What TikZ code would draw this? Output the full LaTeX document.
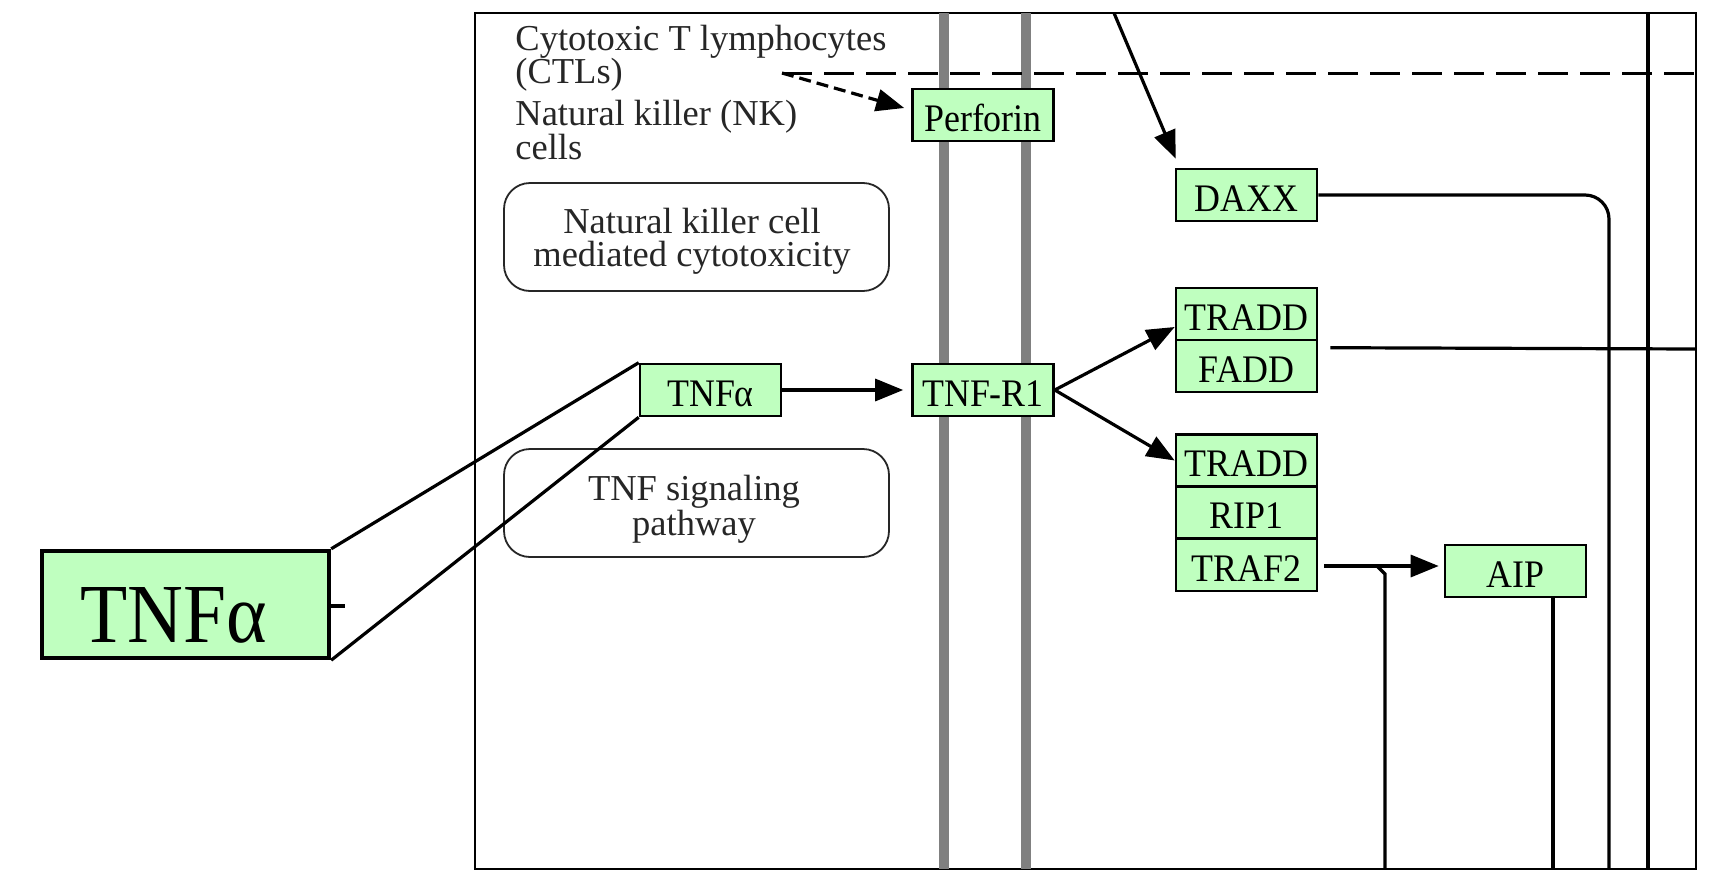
\documentclass[tikz,border=0pt]{standalone}
\usepackage{fontspec}
\setmainfont{Liberation Serif}
\newfontfamily\genefont{Liberation Serif}[FakeStretch=0.92]
\usetikzlibrary{arrows.meta,calc}
\definecolor{genegreen}{RGB}{191,255,191}
\definecolor{membgray}{RGB}{128,128,128}
\begin{document}
\begin{tikzpicture}[x=0.5pt,y=-0.5pt,
  gene/.style={draw=black, line width=1.3pt, fill=genegreen, minimum width=70.5pt,
    minimum height=26pt, inner sep=0pt, text height=16pt, text depth=0pt,
    font=\genefont\fontsize{19.5pt}{21pt}\selectfont},
  biggene/.style={draw=black, line width=2.2pt, fill=genegreen, minimum width=143.5pt,
    minimum height=53.5pt, inner sep=0pt, text height=37.5pt, text depth=0pt,
    font=\genefont\fontsize{42pt}{44pt}\selectfont},
  lbl/.style={inner sep=0pt, anchor=base west, text=black!85,
    font=\fontsize{18.25pt}{20pt}\selectfont},
  lblc/.style={lbl, anchor=base},
  rbox/.style={draw=black!85, line width=0.9pt, rounded corners=13pt,
    minimum width=192.5pt, minimum height=54pt, inner sep=0pt},
  conn/.style={draw=black, line width=1.6pt},
  arr/.style={-{Triangle[length=14pt,width=11pt]}},
  memb/.style={draw=membgray, line width=5pt},
  zoomline/.style={draw=black, line width=1.6pt},
  dashline/.style={draw=black, line width=1.5pt, dash pattern=on 15pt off 6pt}
]
\useasboundingbox (0,0) rectangle (1725,889);
% frame
\draw[line width=1.1pt] (475,13) rectangle (1696,869);
% membranes
\coordinate (m1t) at (944,13); \coordinate (m1b) at (944,869);
\coordinate (m2t) at (1026,13); \coordinate (m2b) at (1026,869);
\draw[memb] (m1t) -- (m1b);
\draw[memb] (m2t) -- (m2b);
% dashed boundary
\coordinate (dl) at (782,73); \coordinate (dr) at (1696,73);
\draw[dashline] (dl) -- (dr);
% labels
\node[lbl] (ctl1) at (515,50) {Cytotoxic T lymphocytes};
\node[lbl] (ctl2) at (515,83) {(CTLs)};
\node[lbl] (nkc1) at (515,125) {Natural killer (NK)};
\node[lbl] (nkc2) at (515,159) {cells};
% pathway boxes
\node[rbox] (nkbox) at (696.5,237) {};
\node[lblc] (nkt1) at (692,233) {Natural killer cell};
\node[lblc] (nkt2) at (692,266) {mediated cytotoxicity};
\node[rbox] (tnfbox) at (696.5,503) {};
\node[lblc] (tnft1) at (694,500) {TNF signaling};
\node[lblc] (tnft2) at (694,535) {pathway};
% genes
\node[gene] (perforin) at (983,115) {Perforin};
\node[gene] (tnfa) at (710.5,390) {TNFα};
\node[gene] (tnfr1) at (983,390) {TNF-R1};
\node[gene] (daxx) at (1246.5,195) {DAXX};
\node[gene] (tradd1) at (1246.5,314) {TRADD};
\node[gene] (fadd) at (1246.5,366) {FADD};
\node[gene] (tradd2) at (1246.5,460.5) {TRADD};
\node[gene] (rip1) at (1246.5,512.5) {RIP1};
\node[gene] (traf2) at (1246.5,565) {TRAF2};
\node[gene] (aip) at (1515.5,571) {AIP};
\node[biggene] (big) at (185.5,604.5) {TNFα\hspace*{12pt}};
% zoom lines
\draw[zoomline] (big.north east) -- (tnfa.north west);
\draw[zoomline] (big.south east) -- (tnfa.south west);
\coordinate (tick) at ($(big.east)+(14,1.5)$);
\draw[zoomline] ($(big.east)+(0,1.5)$) -- (tick);
% connectors
\draw[conn,arr,dash pattern=on 6pt off 3pt] (dl) -- ($(perforin.west)+(-7,-7)$);
\draw[conn,arr,shorten >=4pt] (tnfa.east) -- (tnfr1.west);
\draw[conn,arr] (tnfr1.east) -- ($(tradd1.west)+(0,13)$);
\draw[conn,arr] (tnfr1.east) -- (tradd2.west);
\coordinate (dtop) at (1114,13);
\draw[conn,arr] (dtop) -- ($(daxx.north west)+(1,-9)$);
\coordinate (dbot) at (1609,869);
\draw[conn,rounded corners=12pt] (daxx.east) -| (dbot);
\coordinate (faddend) at (1696,349);
\draw[conn] ($(fadd.north east)+(12,9)$) -- (faddend);
\coordinate (vtop) at (1648,13); \coordinate (vbot) at (1648,869);
\draw[conn] (vtop) -- (vbot);
\draw[conn,arr] ($(traf2.east)+(6,1)$) -- ($(aip.west)+(-5,-5)$);
\coordinate (br1) at (1377,566); \coordinate (br2) at (1385,574); \coordinate (br3) at (1385,869);
\draw[conn] (br1) -- (br2) -- (br3);
\coordinate (aipbot) at (1553,869);
\draw[conn] ($(aip.south)+(37.5,0)$) -- (aipbot);
\end{tikzpicture}
\end{document}
